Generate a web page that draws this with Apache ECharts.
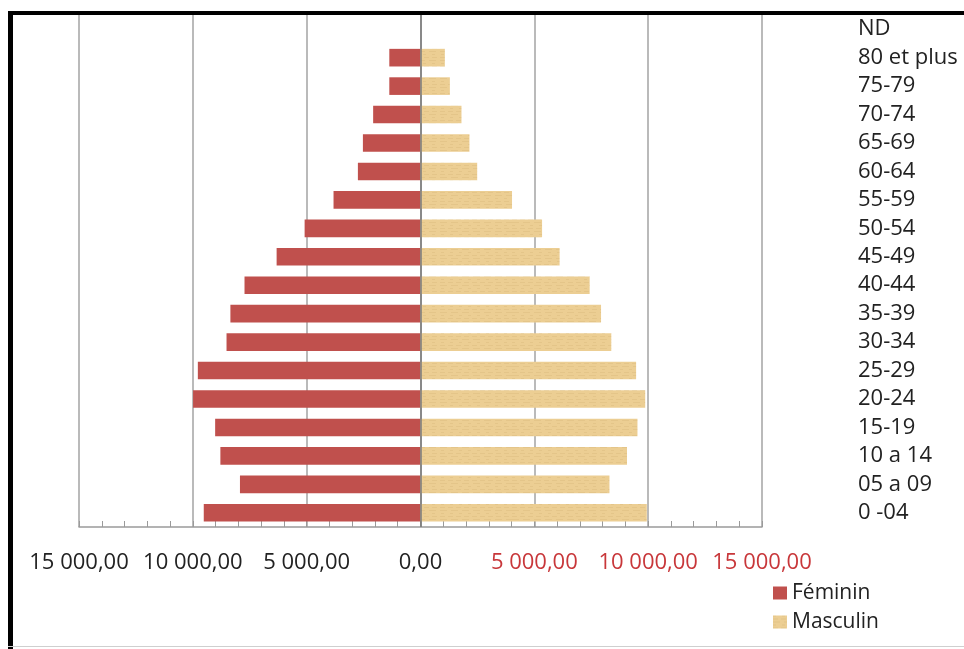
<!DOCTYPE html>
<html>
<head>
<meta charset="utf-8">
<script src="https://cdn.jsdelivr.net/npm/echarts@6/dist/echarts.min.js"></script>
<style>
  html, body { margin: 0; padding: 0; background: #ffffff; overflow: hidden; }
  #wrap { position: relative; width: 964px; height: 649px; background: #ffffff; }
  #chart { position: absolute; left: 0; top: 0; width: 964px; height: 649px; z-index: 1; }
  /* frame: heavy black top and left edges, thin grey bottom edge */
  #frameTop { position: absolute; left: 8px; top: 11px; width: 956px; height: 4px; background: #000000; z-index: 10; }
  #frameLeft { position: absolute; left: 8px; top: 11px; width: 5px; height: 638px; background: #000000; z-index: 10; }
  #frameBottom { position: absolute; left: 8px; top: 646px; width: 956px; height: 1px; background: #cfcfcf; z-index: 10; }
</style>
</head>
<body>
<div id="wrap">
  <div id="chart"></div>
  <div id="frameTop"></div>
  <div id="frameLeft"></div>
  <div id="frameBottom"></div>
</div>
<script>
// Age groups, youngest at the bottom
const ageGroups = ['0 -04', '05 a 09', '10 a 14', '15-19', '20-24', '25-29', '30-34', '35-39',
  '40-44', '45-49', '50-54', '55-59', '60-64', '65-69', '70-74', '75-79', '80 et plus', 'ND'];

// Population by sex and age group
const feminin = [9520, 7930, 8790, 9020, 9990, 9780, 8520, 8350, 7730, 6320, 5090, 3820, 2750, 2530, 2080, 1370, 1370, 0];
const masculin = [9940, 8300, 9070, 9530, 9870, 9470, 8380, 7930, 7430, 6110, 5340, 4020, 2490, 2150, 1800, 1290, 1070, 0];

// Value axis ticks
const axisMin = -15000;
const axisMax = 15000;
const axisStep = 5000;

const FONT = 'Open Sans';

function frNumber(v) {
  const a = Math.abs(Math.round(v));
  return a.toString().replace(/\B(?=(\d{3})+(?!\d))/g, ' ') + ',00';
}

const chart = echarts.init(document.getElementById('chart'), null, { renderer: 'canvas' });

chart.setOption({
  animation: false,
  textStyle: { fontFamily: FONT },
  grid: { left: 79, right: 202, top: 15, bottom: 122, containLabel: false },
  legend: {
    data: ['Féminin', 'Masculin'],
    orient: 'vertical',
    left: 768,
    top: 577,
    itemWidth: 14,
    itemHeight: 13,
    itemGap: 7,
    icon: 'rect',
    textStyle: { fontFamily: FONT, fontSize: 21, color: '#222222', lineHeight: 22 }
  },
  xAxis: {
    type: 'value',
    min: axisMin,
    max: axisMax,
    interval: axisStep,
    axisLine: { show: true, onZero: false, lineStyle: { color: '#9a9a9a', width: 1.5 } },
    axisTick: { show: true, inside: true, length: 6, lineStyle: { color: '#9a9a9a' } },
    minorTick: { show: true, splitNumber: 5, length: 6, lineStyle: { color: '#9a9a9a' } },
    splitLine: { show: true, lineStyle: { color: '#a3a3a3', width: 1.5 } },
    axisLabel: {
      margin: 25,
      fontFamily: FONT,
      fontSize: 22,
      formatter: frNumber,
      color: function (val) { return Number(val) > 0 ? '#c8373a' : '#222222'; }
    }
  },
  yAxis: {
    type: 'category',
    data: ageGroups,
    position: 'right',
    axisLine: { show: false },
    axisTick: { show: false },
    splitLine: { show: false },
    axisLabel: {
      interval: 0,
      margin: 96,
      align: 'left',
      padding: [5, 0, 0, 0],
      fontFamily: FONT,
      fontSize: 22,
      color: '#222222'
    }
  },
  series: [
    {
      name: 'Féminin',
      type: 'bar',
      data: feminin.map(v => -v),
      barCategoryGap: '38%',
      barGap: '-100%',
      itemStyle: { color: '#c0504d' }
    },
    {
      name: 'Masculin',
      type: 'bar',
      data: masculin,
      barCategoryGap: '38%',
      barGap: '-100%',
      itemStyle: {
        color: '#ecce93',
        // faint fibrous streaks of the paper-like fill
        decal: {
          symbol: 'rect',
          symbolSize: 1,
          color: 'rgba(196, 160, 96, 0.18)',
          dashArrayX: [[7, 4], [3, 6], [5, 3]],
          dashArrayY: [1, 2],
          rotation: 0
        }
      },
      markLine: {
        silent: true,
        symbol: 'none',
        label: { show: false },
        lineStyle: { color: '#7a7a7a', width: 1.5, type: 'solid' },
        data: [{ xAxis: 0 }]
      }
    }
  ]
});
</script>
</body>
</html>
